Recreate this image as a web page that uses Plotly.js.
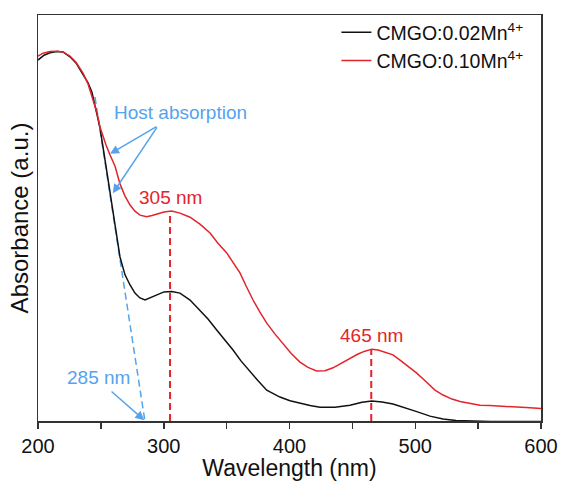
<!DOCTYPE html>
<html>
<head>
<meta charset="utf-8">
<script src="https://cdn.plot.ly/plotly-3.0.1.min.js"></script>
<style>html,body{margin:0;padding:0;background:#fff;}#chart{width:561px;height:481px;}</style>
</head>
<body>
<div id="chart"></div>
<script>
// Wavelength (nm) and absorbance (a.u., normalised)
const wlBlack = [200,204.8,209.5,215.1,219.9,225.4,230.2,233.4,239.8,242.9,246.7,249.3,253.3,257.3,261.2,265.2,269.2,273.2,277.1,281.1,285.1,289.1,294.4,300.2,306.3,312.9,320.9,328.8,335.2,342.1,348.7,355.1,361.4,368.6,375.0,381.9,388.5,392.4,400.4,408.3,416.3,424.3,436.2,448.1,457.7,465.4,473.6,482.3,491.8,501.2,511.7,522.1,532.4,543.5,560,580,600];
const absBlack = [0.889,0.901,0.907,0.910,0.909,0.897,0.882,0.865,0.833,0.810,0.762,0.722,0.643,0.559,0.480,0.404,0.360,0.335,0.315,0.303,0.298,0.303,0.310,0.318,0.319,0.315,0.298,0.273,0.251,0.224,0.200,0.175,0.148,0.121,0.099,0.076,0.064,0.059,0.050,0.044,0.038,0.034,0.034,0.039,0.046,0.049,0.047,0.042,0.033,0.023,0.012,0.005,0.001,0.0,-0.001,-0.001,-0.001];

const wlRed = [200,204,209.5,215.1,219.9,225.4,230.2,235.8,239.8,243.7,246.9,249.3,251.7,254.1,257.3,261.2,265.2,269.2,273.2,277.1,281.1,286.4,290.7,295.4,300.2,306.3,312.9,320.9,328.8,336.8,343.1,350.1,355.1,360.6,365.4,371.0,376.5,381.9,388.5,394.8,401.2,408.3,414.7,421.6,428.2,434.6,441.7,448.1,454.5,460.0,465.4,470.4,476.0,482.3,487.9,494.2,501.2,507.8,515.7,522.1,529.2,535.6,543.5,551.5,559.4,567.4,577.7,588.1,600];
const absRed = [0.899,0.906,0.910,0.911,0.909,0.899,0.884,0.857,0.830,0.791,0.759,0.724,0.700,0.680,0.655,0.628,0.584,0.554,0.532,0.517,0.507,0.503,0.506,0.511,0.515,0.517,0.512,0.502,0.485,0.463,0.438,0.414,0.392,0.365,0.333,0.298,0.268,0.241,0.214,0.192,0.167,0.145,0.132,0.123,0.124,0.131,0.143,0.153,0.165,0.172,0.177,0.175,0.170,0.163,0.150,0.135,0.118,0.099,0.076,0.064,0.054,0.048,0.043,0.039,0.038,0.037,0.034,0.033,0.031];

const seriesNames = ['CMGO:0.02Mn<sup>4+</sup>', 'CMGO:0.10Mn<sup>4+</sup>'];
// Host-absorption tangent (wavelength, absorbance)
const tangentX = [245.3, 285];
const tangentY = [0.798, 0];
// Peak markers
const peakX = [305, 465];
const peakY = [0.517, 0.177];
const peakLabels = ['305 nm', '465 nm'];
const xTickVals = [200, 300, 400, 500, 600];
const xTickText = ['200', '300', '400', '500', '600'];

const RED = '#e3242b';
const BLUE = '#55a3ec';
const FONT = 'Liberation Sans, Arial, sans-serif';

const traces = [
  {x: tangentX, y: tangentY, mode: 'lines', line: {color: BLUE, width: 1.5, dash: '7px,4px'}, showlegend: false, hoverinfo: 'skip'},
  {x: wlBlack, y: absBlack, mode: 'lines', name: seriesNames[0], line: {color: '#111', width: 1.5}},
  {x: wlRed, y: absRed, mode: 'lines', name: seriesNames[1], line: {color: RED, width: 1.5}},
];
peakX.forEach((px, i) => {
  traces.push({x: [px, px], y: [0, peakY[i]], mode: 'lines', line: {color: RED, width: 2, dash: '7px,4px'}, showlegend: false, hoverinfo: 'skip'});
});

const annotations = [
  {x: 313.7, y: 0.759, xref: 'x', yref: 'y', text: 'Host absorption', showarrow: false, font: {family: FONT, size: 19, color: BLUE}},
  {x: 257.3, y: 0.658, xref: 'x', yref: 'y', ax: 295.4, ay: 0.727, axref: 'x', ayref: 'y', text: '', showarrow: true, arrowhead: 2, arrowsize: 1.2, arrowwidth: 1.5, arrowcolor: BLUE},
  {x: 259.5, y: 0.561, xref: 'x', yref: 'y', ax: 295.4, ay: 0.727, axref: 'x', ayref: 'y', text: '', showarrow: true, arrowhead: 2, arrowsize: 1.2, arrowwidth: 1.5, arrowcolor: BLUE},
  {x: 248, y: 0.106, xref: 'x', yref: 'y', text: '285 nm', showarrow: false, font: {family: FONT, size: 19, color: BLUE}},
  {x: 284.5, y: 0.002, xref: 'x', yref: 'y', ax: 257.3, ay: 0.076, axref: 'x', ayref: 'y', text: '', showarrow: true, arrowhead: 2, arrowsize: 1.2, arrowwidth: 1.5, arrowcolor: BLUE},
];
peakX.forEach((px, i) => {
  annotations.push({x: px, y: peakY[i], xref: 'x', yref: 'y', yshift: 14, text: peakLabels[i], showarrow: false, font: {family: FONT, size: 19, color: RED}});
});

const layout = {
  width: 561, height: 481,
  margin: {l: 38, r: 20, t: 15, b: 60},
  paper_bgcolor: '#fff', plot_bgcolor: '#fff',
  font: {family: FONT, color: '#111'},
  showlegend: true,
  legend: {x: 0.975, xanchor: 'right', y: 1.005, yanchor: 'top', bgcolor: 'rgba(0,0,0,0)', font: {family: FONT, size: 19.5, color: '#111'}},
  xaxis: {
    range: [200, 600], tickvals: xTickVals, ticktext: xTickText,
    ticks: 'outside', ticklen: 6, tickwidth: 1.5, tickcolor: '#333',
    minor: {dtick: 50, ticks: 'outside', ticklen: 6, tickwidth: 1.5, tickcolor: '#333'},
    showline: true, linecolor: '#333', linewidth: 1.5, mirror: true,
    showgrid: false, zeroline: false,
    tickfont: {family: FONT, size: 20, color: '#111'},
    title: {text: 'Wavelength (nm)', font: {family: FONT, size: 23, color: '#111'}, standoff: 3}
  },
  yaxis: {
    range: [0, 1], showticklabels: false, ticks: '',
    showline: true, linecolor: '#333', linewidth: 1.5, mirror: true,
    showgrid: false, zeroline: false,
    title: {text: 'Absorbance (a.u.)', font: {family: FONT, size: 24, color: '#111'}, standoff: 1}
  },
  annotations: annotations
};

Plotly.newPlot('chart', traces, layout, {displayModeBar: false, staticPlot: true});
</script>
</body>
</html>
